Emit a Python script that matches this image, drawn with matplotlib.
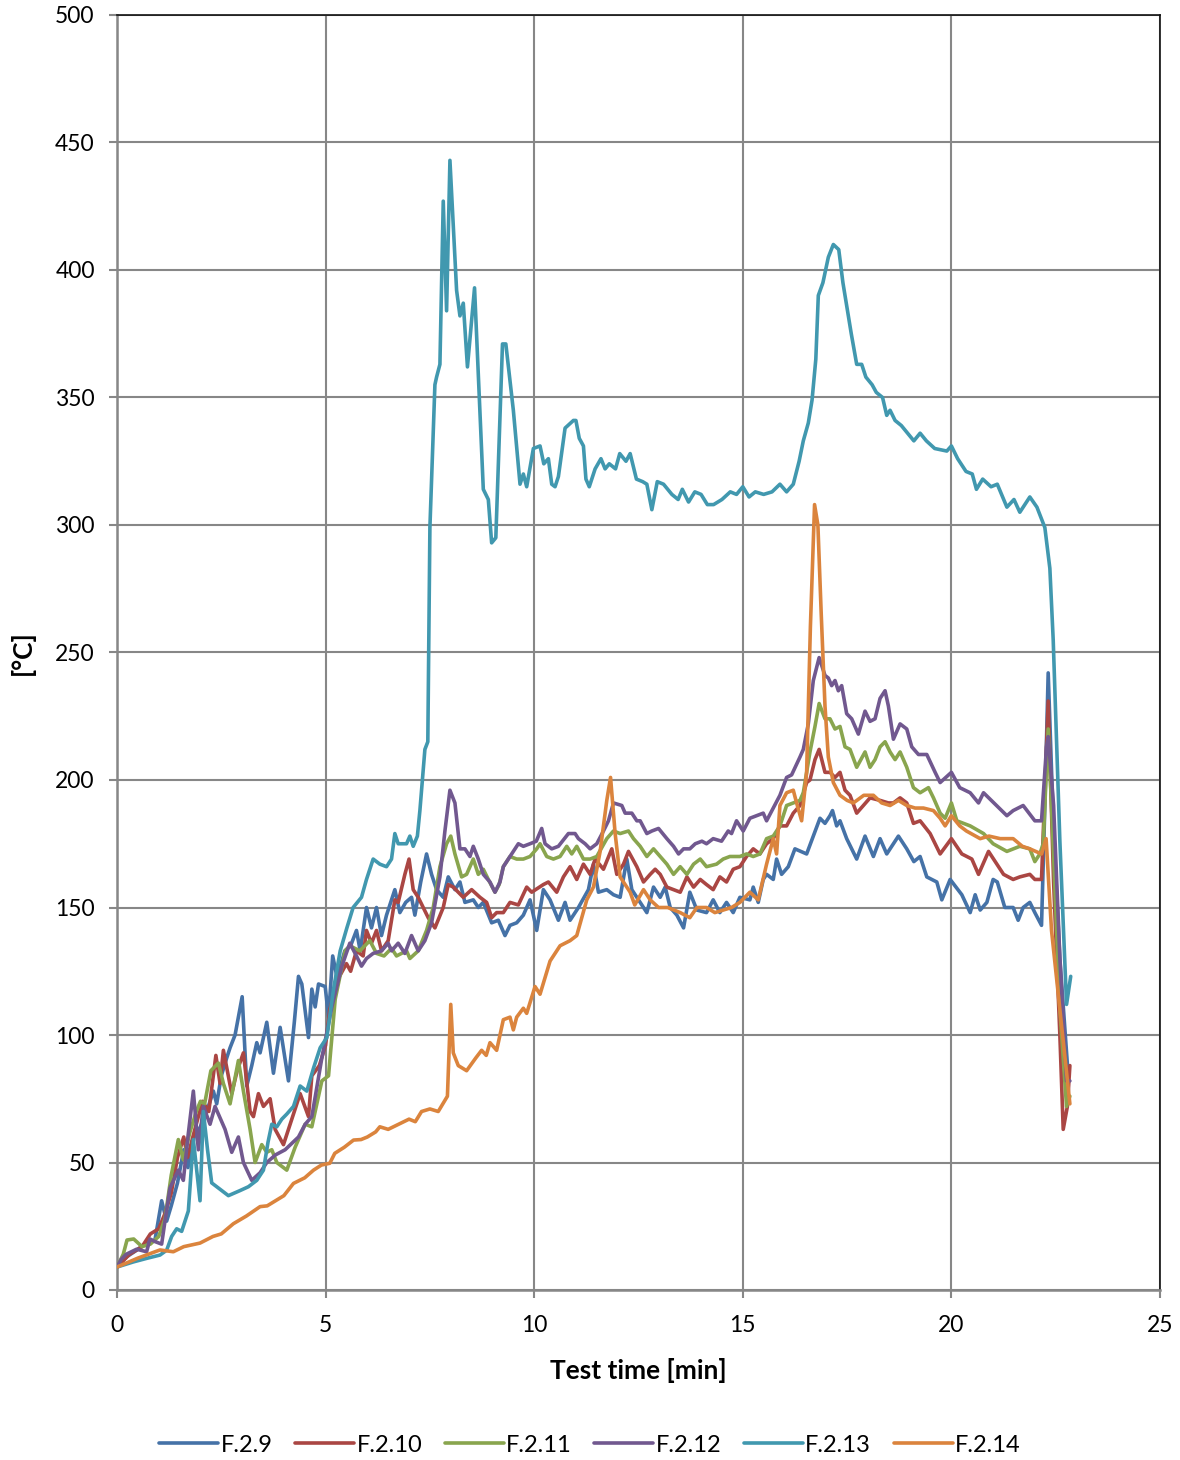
import matplotlib
matplotlib.use("Agg")
import matplotlib.pyplot as plt

plt.rcParams["font.family"] = ["Lato", "DejaVu Sans"]

# Thermocouple readings, (test time [min], temperature [°C])
F_2_9 = [
    (0, 9), (0.23, 13), (0.47, 15.6), (0.63, 17.6), (0.79, 18.9), (0.91, 19.6), (1.07, 35), (1.19, 27),
    (1.3, 33), (1.45, 42), (1.6, 55), (1.7, 48), (1.85, 60), (2.0, 64), (2.15, 70), (2.31, 78),
    (2.39, 73), (2.5, 84), (2.63, 91), (2.71, 95), (2.83, 100), (3.0, 115), (3.11, 80), (3.23, 88),
    (3.35, 97), (3.43, 93), (3.59, 105), (3.75, 85), (3.91, 103), (4.11, 82), (4.25, 105), (4.35, 123),
    (4.43, 120), (4.59, 99), (4.67, 118), (4.75, 111), (4.83, 120), (4.99, 119), (5.07, 107), (5.17, 131),
    (5.27, 123), (5.39, 129), (5.46, 133), (5.6, 135), (5.74, 141), (5.83, 133), (5.98, 150), (6.1, 142),
    (6.22, 150), (6.34, 139), (6.46, 147), (6.58, 153), (6.66, 157), (6.78, 148), (6.92, 152), (7.06, 154),
    (7.14, 147), (7.28, 160), (7.42, 171), (7.54, 163), (7.66, 157), (7.82, 154), (7.94, 162), (8.1, 157),
    (8.22, 160), (8.34, 152), (8.54, 153), (8.66, 150), (8.78, 152), (8.98, 144), (9.14, 145), (9.3, 139),
    (9.42, 143), (9.58, 144), (9.74, 147), (9.9, 153), (10.06, 141), (10.22, 157), (10.38, 153), (10.58, 145),
    (10.74, 152), (10.86, 145), (11.06, 150), (11.3, 157), (11.42, 167), (11.54, 156), (11.74, 157), (11.9, 155),
    (12.06, 154), (12.22, 169), (12.34, 157), (12.54, 152), (12.7, 148), (12.86, 158), (13.02, 154), (13.14, 158),
    (13.26, 150), (13.42, 147), (13.58, 142), (13.73, 156), (13.9, 149), (14.13, 148), (14.29, 153), (14.45, 148),
    (14.61, 152), (14.77, 148), (14.93, 154), (15.17, 153), (15.25, 158), (15.37, 152), (15.49, 161), (15.57, 163),
    (15.73, 161), (15.81, 169), (15.93, 163), (16.09, 166), (16.25, 173), (16.53, 171), (16.69, 178), (16.85, 185),
    (16.97, 183), (17.09, 186), (17.15, 188), (17.25, 182), (17.33, 184), (17.49, 177), (17.73, 169), (17.93, 178),
    (18.13, 170), (18.29, 177), (18.45, 171), (18.73, 178), (18.93, 173), (19.1, 168), (19.25, 170), (19.41, 162),
    (19.65, 160), (19.77, 153), (19.97, 161), (20.25, 155), (20.45, 148), (20.57, 155), (20.69, 149), (20.85, 152),
    (21.0, 161), (21.1, 160), (21.28, 150), (21.48, 150), (21.6, 145), (21.72, 150), (21.88, 152), (22.0, 148),
    (22.16, 143), (22.24, 190), (22.32, 242), (22.45, 180), (22.6, 130), (22.8, 84),
]

F_2_10 = [
    (0, 9), (0.3, 14), (0.6, 17), (0.8, 22), (1.0, 24), (1.15, 30), (1.3, 38), (1.45, 52),
    (1.6, 60), (1.69, 52), (1.85, 62), (2.05, 74), (2.2, 70), (2.37, 92), (2.47, 81), (2.55, 94),
    (2.75, 77), (2.88, 86), (3.03, 93), (3.19, 70), (3.27, 68), (3.39, 77), (3.51, 72), (3.67, 75),
    (3.79, 63), (3.99, 57), (4.15, 65), (4.39, 77), (4.59, 68), (4.67, 84), (4.85, 88), (5.0, 96),
    (5.1, 110), (5.3, 122), (5.5, 128), (5.6, 125), (5.74, 133), (5.9, 131), (5.98, 141), (6.1, 136),
    (6.22, 141), (6.34, 133), (6.5, 137), (6.66, 153), (6.74, 152), (6.9, 163), (7.0, 169), (7.1, 157),
    (7.22, 154), (7.34, 150), (7.46, 146), (7.62, 142), (7.82, 150), (7.94, 159), (8.06, 158), (8.18, 156),
    (8.3, 154), (8.5, 157), (8.7, 154), (8.86, 152), (8.98, 146), (9.1, 148), (9.26, 148), (9.42, 152),
    (9.62, 151), (9.82, 158), (9.94, 156), (10.22, 159), (10.34, 160), (10.54, 156), (10.7, 162), (10.86, 166),
    (11.02, 161), (11.18, 167), (11.34, 163), (11.46, 169), (11.66, 165), (11.86, 173), (11.98, 163), (12.14, 167),
    (12.26, 172), (12.46, 166), (12.62, 160), (12.78, 163), (12.9, 165), (13.02, 163), (13.18, 158), (13.34, 157),
    (13.5, 156), (13.66, 162), (13.82, 158), (13.98, 161), (14.13, 159), (14.29, 157), (14.45, 162), (14.61, 160),
    (14.77, 165), (14.93, 166), (15.09, 170), (15.25, 173), (15.41, 171), (15.57, 175), (15.73, 177), (15.89, 182),
    (16.05, 182), (16.21, 187), (16.37, 190), (16.53, 199), (16.61, 200), (16.73, 208), (16.83, 212), (16.97, 203),
    (17.09, 203), (17.21, 201), (17.33, 203), (17.45, 196), (17.57, 194), (17.73, 187), (17.89, 190), (18.05, 193),
    (18.29, 192), (18.49, 191), (18.61, 191), (18.77, 193), (18.93, 191), (19.09, 183), (19.25, 184), (19.49, 179),
    (19.73, 171), (20.0, 177), (20.25, 171), (20.49, 169), (20.65, 163), (20.89, 172), (21.25, 163), (21.48, 161),
    (21.64, 162), (21.88, 163), (22.0, 161), (22.16, 161), (22.32, 231), (22.45, 160), (22.6, 100), (22.68, 63),
    (22.78, 72), (22.84, 88),
]

F_2_11 = [
    (0, 9), (0.15, 14), (0.24, 19.6), (0.4, 20), (0.6, 17), (0.8, 18), (1.0, 21), (1.15, 28),
    (1.3, 45), (1.47, 59), (1.59, 51), (1.75, 62), (1.9, 70), (2.0, 74), (2.1, 73), (2.25, 86),
    (2.43, 89), (2.55, 81), (2.71, 73), (2.91, 90), (3.03, 78), (3.19, 63), (3.31, 50), (3.47, 57),
    (3.59, 54), (3.71, 55), (3.83, 50), (4.07, 47), (4.27, 56), (4.51, 65), (4.67, 64), (4.91, 82),
    (5.07, 84), (5.23, 114), (5.47, 133), (5.58, 135), (5.82, 133), (6.06, 137), (6.22, 132), (6.4, 131),
    (6.58, 134), (6.7, 131), (6.94, 133), (7.02, 130), (7.22, 133), (7.42, 141), (7.58, 150), (7.74, 166),
    (7.9, 175), (8.0, 178), (8.1, 171), (8.26, 162), (8.38, 163), (8.54, 169), (8.66, 163), (8.78, 165),
    (8.9, 161), (9.06, 156), (9.16, 159), (9.26, 166), (9.42, 170), (9.58, 169), (9.74, 169), (9.9, 170),
    (10.06, 173), (10.14, 175), (10.3, 170), (10.46, 169), (10.62, 170), (10.78, 174), (10.9, 171), (11.02, 174),
    (11.18, 169), (11.34, 169), (11.5, 170), (11.74, 177), (11.9, 180), (12.06, 179), (12.26, 180), (12.38, 177),
    (12.54, 174), (12.7, 170), (12.86, 173), (13.02, 170), (13.18, 167), (13.34, 163), (13.5, 166), (13.66, 163),
    (13.82, 167), (13.98, 169), (14.13, 166), (14.37, 167), (14.53, 169), (14.69, 170), (14.93, 170), (15.09, 171),
    (15.25, 170), (15.41, 171), (15.57, 177), (15.73, 178), (15.89, 182), (16.05, 190), (16.21, 191), (16.37, 192),
    (16.45, 195), (16.61, 211), (16.73, 221), (16.83, 230), (16.97, 224), (17.09, 224), (17.21, 220), (17.33, 221),
    (17.45, 213), (17.57, 212), (17.73, 205), (17.93, 211), (18.05, 205), (18.17, 208), (18.29, 213), (18.41, 215),
    (18.53, 211), (18.65, 208), (18.77, 211), (18.93, 205), (19.09, 197), (19.25, 195), (19.45, 197), (19.57, 193),
    (19.73, 187), (19.85, 185), (20.0, 191), (20.13, 184), (20.45, 182), (20.77, 179), (21.0, 175), (21.33, 172),
    (21.64, 174), (21.88, 173), (22.0, 168), (22.12, 171), (22.2, 175), (22.32, 220), (22.45, 170), (22.6, 110),
    (22.76, 72), (22.84, 76),
]

F_2_12 = [
    (0, 9), (0.1, 12), (0.22, 14), (0.47, 16), (0.71, 15), (0.79, 20), (0.91, 19), (1.07, 18),
    (1.15, 27), (1.27, 40), (1.47, 47), (1.59, 43), (1.7, 60), (1.83, 78), (1.95, 55), (2.07, 72),
    (2.23, 65), (2.35, 72), (2.59, 63), (2.75, 54), (2.91, 60), (3.03, 50), (3.23, 43), (3.43, 46),
    (3.59, 50), (3.8, 53), (4.03, 55), (4.35, 60), (4.51, 65), (4.67, 68), (4.91, 91), (5.15, 111),
    (5.39, 127), (5.58, 136), (5.74, 131), (5.86, 127), (5.98, 130), (6.14, 132), (6.34, 133), (6.5, 136),
    (6.58, 133), (6.74, 136), (6.9, 132), (7.06, 139), (7.22, 133), (7.38, 137), (7.54, 144), (7.74, 162),
    (7.86, 180), (7.98, 196), (8.1, 191), (8.22, 173), (8.34, 173), (8.46, 170), (8.54, 174), (8.66, 169),
    (8.78, 163), (8.94, 160), (9.06, 156), (9.18, 160), (9.26, 166), (9.42, 170), (9.62, 175), (9.74, 174),
    (9.9, 175), (10.05, 176), (10.18, 181), (10.26, 175), (10.42, 173), (10.58, 174), (10.82, 179), (10.98, 179),
    (11.06, 177), (11.22, 175), (11.34, 173), (11.5, 175), (11.66, 180), (11.78, 184), (11.9, 191), (12.1, 190),
    (12.18, 187), (12.34, 187), (12.46, 184), (12.54, 184), (12.7, 179), (12.82, 180), (12.98, 181), (13.18, 177),
    (13.34, 174), (13.46, 171), (13.58, 173), (13.73, 173), (13.86, 175), (14.02, 176), (14.13, 175), (14.29, 177),
    (14.49, 176), (14.65, 180), (14.73, 179), (14.85, 184), (15.01, 180), (15.17, 185), (15.33, 186), (15.49, 187),
    (15.57, 184), (15.73, 189), (15.89, 194), (16.05, 201), (16.17, 202), (16.37, 209), (16.45, 212), (16.57, 222),
    (16.69, 239), (16.83, 248), (16.97, 241), (17.05, 240), (17.13, 237), (17.21, 239), (17.29, 235), (17.37, 237),
    (17.49, 226), (17.61, 224), (17.77, 218), (17.93, 227), (18.05, 223), (18.17, 224), (18.29, 232), (18.41, 235),
    (18.49, 229), (18.61, 216), (18.77, 222), (18.93, 220), (19.05, 213), (19.21, 210), (19.41, 210), (19.61, 203),
    (19.73, 199), (20.0, 203), (20.2, 197), (20.45, 195), (20.65, 191), (20.77, 195), (21.08, 190), (21.33, 186),
    (21.48, 188), (21.72, 190), (22.0, 184), (22.16, 184), (22.28, 213), (22.32, 217), (22.45, 190), (22.6, 130),
    (22.76, 82), (22.84, 82),
]

F_2_13 = [
    (0, 9), (0.39, 11), (0.71, 12.4), (1.03, 13.7), (1.19, 15.6), (1.31, 21), (1.43, 24), (1.55, 23),
    (1.71, 31), (1.83, 59), (1.91, 47), (1.99, 35), (2.07, 70), (2.17, 55), (2.27, 42), (2.55, 38.5),
    (2.67, 37), (2.95, 39), (3.15, 40.5), (3.35, 43), (3.51, 47), (3.62, 58), (3.71, 65), (3.83, 64),
    (3.95, 67), (4.07, 69), (4.23, 72), (4.39, 80), (4.55, 78), (4.71, 87), (4.87, 95), (5.03, 99),
    (5.19, 118), (5.35, 133), (5.51, 142), (5.66, 150), (5.86, 154), (5.98, 161), (6.14, 169), (6.3, 167),
    (6.46, 166), (6.58, 169), (6.66, 179), (6.74, 175), (6.94, 175), (7.02, 178), (7.1, 174), (7.2, 178),
    (7.26, 188), (7.38, 212), (7.45, 215), (7.5, 299), (7.62, 355), (7.66, 358), (7.74, 363), (7.82, 427),
    (7.9, 384), (7.98, 443), (8.14, 392), (8.22, 382), (8.3, 387), (8.4, 362), (8.57, 393), (8.78, 314),
    (8.9, 310), (8.98, 293), (9.08, 295), (9.24, 371), (9.32, 371), (9.5, 345), (9.66, 316), (9.74, 320),
    (9.82, 315), (9.98, 330), (10.14, 331), (10.23, 324), (10.34, 326), (10.42, 316), (10.5, 315), (10.58, 319),
    (10.74, 338), (10.94, 341), (11.0, 341), (11.08, 334), (11.18, 331), (11.24, 318), (11.32, 315), (11.46, 322),
    (11.6, 326), (11.7, 322), (11.8, 324), (11.95, 322), (12.05, 328), (12.2, 325), (12.3, 328), (12.45, 318),
    (12.6, 317), (12.7, 316), (12.82, 306), (12.95, 317), (13.1, 316), (13.3, 312), (13.45, 310), (13.55, 314),
    (13.7, 309), (13.85, 313), (14.0, 312), (14.15, 308), (14.3, 308), (14.5, 310), (14.7, 313), (14.85, 312),
    (15.0, 315), (15.15, 311), (15.3, 313), (15.5, 312), (15.7, 313), (15.89, 316), (16.05, 313), (16.21, 316),
    (16.35, 325), (16.45, 333), (16.57, 340), (16.66, 349), (16.75, 365), (16.81, 390), (16.92, 395), (17.05, 405),
    (17.17, 410), (17.3, 408), (17.4, 395), (17.49, 386), (17.6, 375), (17.73, 363), (17.85, 363), (17.95, 358),
    (18.1, 355), (18.2, 352), (18.35, 350), (18.45, 343), (18.53, 345), (18.65, 341), (18.8, 339), (18.95, 336),
    (19.1, 333), (19.25, 336), (19.4, 333), (19.6, 330), (19.89, 329), (20.0, 331), (20.15, 326), (20.35, 321),
    (20.5, 320), (20.6, 314), (20.75, 318), (20.95, 315), (21.1, 316), (21.33, 307), (21.5, 310), (21.64, 305),
    (21.88, 311), (22.05, 307), (22.24, 299), (22.36, 283), (22.44, 255), (22.6, 176), (22.76, 112), (22.86, 123),
]

F_2_14 = [
    (0, 9), (0.5, 12.5), (1.03, 15.7), (1.35, 15), (1.6, 17), (1.99, 18.4), (2.3, 21), (2.5, 22),
    (2.79, 26), (3.1, 29), (3.43, 32.7), (3.6, 33), (3.83, 35.3), (4.0, 37), (4.23, 41.8), (4.5, 44),
    (4.71, 47), (4.9, 49), (5.1, 49.7), (5.22, 53.6), (5.45, 56), (5.67, 58.8), (5.85, 59), (6.0, 60),
    (6.2, 62), (6.3, 64), (6.5, 63), (6.75, 65), (7.0, 67), (7.15, 66), (7.3, 70), (7.5, 71),
    (7.7, 70), (7.92, 76), (8.0, 112), (8.06, 93), (8.18, 88), (8.38, 86), (8.6, 91), (8.74, 94),
    (8.85, 92), (8.94, 97), (9.1, 94), (9.26, 106), (9.42, 107), (9.5, 102), (9.58, 107), (9.74, 110.5),
    (9.82, 108.5), (10.02, 119), (10.14, 116), (10.38, 129), (10.62, 135), (10.86, 137), (11.02, 139), (11.26, 153),
    (11.42, 158), (11.58, 172), (11.74, 192), (11.83, 201), (11.94, 179), (12.06, 162), (12.3, 156), (12.41, 151),
    (12.62, 157), (12.78, 153), (12.98, 150), (13.2, 150), (13.5, 148), (13.73, 146), (13.9, 150), (14.13, 150),
    (14.33, 148), (14.53, 149), (14.73, 150), (14.93, 152), (15.17, 156), (15.37, 153), (15.57, 167), (15.73, 177),
    (15.81, 171), (15.89, 190), (16.05, 195), (16.21, 196), (16.29, 191), (16.41, 184), (16.53, 203), (16.62, 260),
    (16.72, 308), (16.8, 300), (16.88, 265), (16.97, 229), (17.05, 209), (17.17, 199), (17.33, 194), (17.5, 192),
    (17.65, 191), (17.9, 194), (18.13, 194), (18.33, 191), (18.53, 190), (18.73, 192), (18.93, 190), (19.13, 189),
    (19.33, 189), (19.57, 188), (19.73, 185), (19.85, 182), (20.0, 186), (20.2, 182), (20.36, 180), (20.69, 177),
    (20.9, 178), (21.17, 177), (21.48, 177), (21.7, 174), (21.88, 173), (22.16, 171), (22.27, 177), (22.4, 141),
    (22.6, 110), (22.84, 73),
]

SERIES = [
    ("F.2.9", F_2_9, "#4572A7"),
    ("F.2.10", F_2_10, "#AA4643"),
    ("F.2.11", F_2_11, "#89A54E"),
    ("F.2.12", F_2_12, "#71588F"),
    ("F.2.13", F_2_13, "#4198AF"),
    ("F.2.14", F_2_14, "#DB843D"),
]

X_TICKS = [0, 5, 10, 15, 20, 25]
Y_TICKS = [0, 50, 100, 150, 200, 250, 300, 350, 400, 450, 500]

GRID_GREY = "#878787"

fig = plt.figure(figsize=(11.8, 14.6), dpi=100)
ax = fig.add_axes([117 / 1180, 170 / 1460, 1043 / 1180, 1275 / 1460])

for name, points, color in SERIES:
    t, temp = zip(*points)
    ax.plot(t, temp, color=color, linewidth=2.6, label=name,
            solid_joinstyle="round", solid_capstyle="round", zorder=3)

ax.set_xlim(0, 25)
ax.set_ylim(0, 500)
ax.set_xticks(X_TICKS)
ax.set_yticks(Y_TICKS)

ax.grid(True, color=GRID_GREY, linewidth=1.5, zorder=0)
ax.set_axisbelow(True)

for side in ["left", "bottom"]:
    ax.spines[side].set_color(GRID_GREY)
    ax.spines[side].set_linewidth(1.8)
for side in ["top", "right"]:
    ax.spines[side].set_color("#111111")
    ax.spines[side].set_linewidth(1.2)

ax.tick_params(axis="both", which="major", direction="out", length=6,
               width=1.5, color=GRID_GREY, labelsize=16.5, labelcolor="black")
ax.tick_params(axis="y", pad=10)
ax.tick_params(axis="x", pad=12)

ax.set_xlabel("Test time [min]", fontsize=19, fontweight="bold")
ax.set_ylabel("[°C]", fontsize=19, fontweight="bold")
ax.xaxis.set_label_coords(0.5, -0.053)
ax.yaxis.set_label_coords(-0.079, 0.5)

fig.legend(loc="center", bbox_to_anchor=(0.5, 15 / 1460), ncol=6,
           frameon=False, fontsize=17, handlelength=2.5, handletextpad=0.1,
           columnspacing=0.95)

plt.savefig("out.png", dpi=100)
plt.close()
